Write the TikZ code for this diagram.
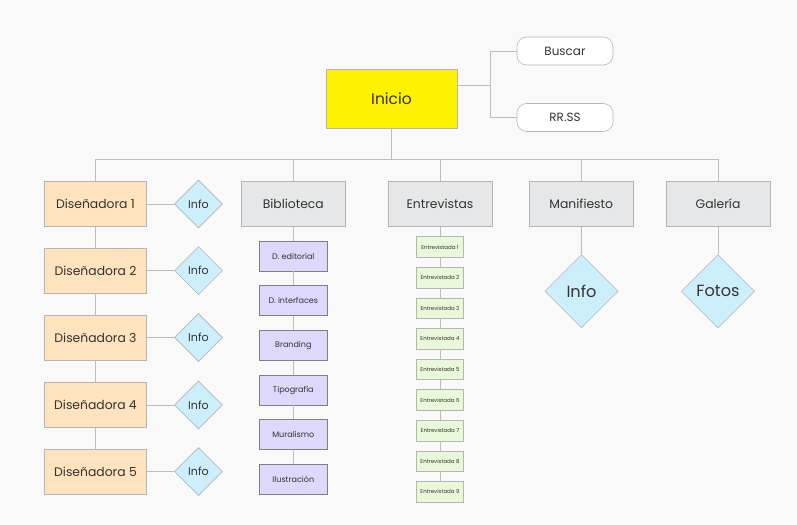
\documentclass[tikz,border=0pt]{standalone}
\usepackage{fontspec}
\setmainfont{Poppins}
\usetikzlibrary{shapes.geometric}

\definecolor{fondo}{HTML}{FAF9FA}
\definecolor{amarillo}{HTML}{FFF200}
\definecolor{durazno}{HTML}{FFE2BE}
\definecolor{celeste}{HTML}{CDEFFC}
\definecolor{gris}{HTML}{E6E7E8}
\definecolor{lila}{HTML}{DDD8FC}
\definecolor{verde}{HTML}{E9F8D9}
\definecolor{borde}{HTML}{B5B5B5}
\definecolor{linea}{HTML}{BDBDBD}
\definecolor{texto}{HTML}{333333}

\begin{document}
\begin{tikzpicture}[x=0.025cm,y=-0.025cm,text=texto]

\fill[fondo] (0,0) rectangle (797,525);
\useasboundingbox (0,0) rectangle (797,525);

% inicio y accesos
\node (inicio) [draw=borde,fill=amarillo,minimum width=3.275cm,minimum height=1.475cm,
	font=\fontsize{11}{13}\selectfont] at (391.5,98.5) {Inicio};
\begin{scope}[every node/.style={draw=borde,fill=white,rounded corners=7pt,
	minimum width=2.4cm,minimum height=0.7cm,font=\fontsize{8.5}{10}\selectfont}]
	\node (buscar) at (565,51) {Buscar};
	\node (rrss) at (565,117.5) {RR.SS};
\end{scope}
\coordinate (rama) at (490.7,85);
\coordinate (bus) at (0,159);

% secciones
\begin{scope}[every node/.style={draw=borde,fill=gris,minimum width=2.59cm,
	minimum height=1.125cm,font=\fontsize{8.8}{10}\selectfont}]
	\node (bib) at (293.3,204) {Biblioteca};
	\node (ent) at (440,204) {Entrevistas};
	\node (man) at (581.3,204) {Manifiesto};
	\node (gal) at (718,204) {Galería};
\end{scope}

\begin{scope}[every node/.style={draw=borde,fill=durazno,minimum width=2.55cm,
	minimum height=1.125cm,font=\fontsize{8.8}{10}\selectfont}]
	\node (d1) at (95.5,204) {Diseñadora 1};
	\node (d2) at (95.5,270.7) {Diseñadora 2};
	\node (d3) at (95.5,337.5) {Diseñadora 3};
	\node (d4) at (95.5,405) {Diseñadora 4};
	\node (d5) at (95.5,471.5) {Diseñadora 5};
\end{scope}

\begin{scope}[every node/.style={diamond,draw=borde,fill=celeste,inner sep=0pt,
	minimum size=1.2cm,font=\fontsize{7.9}{9}\selectfont}]
	\node (i1) at (198.5,204) {Info};
	\node (i2) at (198.5,270.7) {Info};
	\node (i3) at (198.5,337.5) {Info};
	\node (i4) at (198.5,405) {Info};
	\node (i5) at (198.5,471.5) {Info};
\end{scope}

\begin{scope}[every node/.style={diamond,draw=borde,fill=celeste,inner sep=0pt,
	minimum size=1.83cm,font=\fontsize{11.5}{13}\selectfont}]
	\node (info) at (581.5,291.3) {Info};
	\node (fotos) at (718,291.3) {Fotos};
\end{scope}

% biblioteca
\begin{scope}[every node/.style={draw=gray,fill=lila,minimum width=1.7cm,
	minimum height=0.75cm,inner sep=1pt,font=\fontsize{5.7}{7}\selectfont}]
	\node (b1) at (293.3,256) {D. editorial};
	\node (b2) at (293.3,300.7) {D. interfaces};
	\node (b3) at (293.3,345.3) {Branding};
	\node (b4) at (293.3,390) {Tipografía};
	\node (b5) at (293.3,434.7) {Muralismo};
	\node (b6) at (293.3,479.3) {Ilustración};
\end{scope}

% entrevistas
\begin{scope}[every node/.style={draw=borde,fill=verde,minimum width=1.175cm,
	minimum height=0.515cm,inner sep=0.5pt,font=\fontsize{3.9}{5}\selectfont}]
	\node (e1) at (440,247) {Entrevistada 1};
	\node (e2) at (440,277.6) {Entrevistada 2};
	\node (e3) at (440,308.2) {Entrevistada 3};
	\node (e4) at (440,338.8) {Entrevistada 4};
	\node (e5) at (440,369.4) {Entrevistada 5};
	\node (e6) at (440,400) {Entrevistada 6};
	\node (e7) at (440,430.6) {Entrevistada 7};
	\node (e8) at (440,461.2) {Entrevistada 8};
	\node (e9) at (440,491.8) {Entrevistada 9};
\end{scope}

% conexiones
\begin{scope}[line width=0.7pt,every path/.style={draw=linea}]
	\draw (inicio.east |- rama) -- (rama);
	\draw (buscar.west) -| (rama) |- (rrss.west);
	\draw (inicio.south) -- (inicio.south |- bus);
	\draw (d1.north) |- (gal.north |- bus) -- (gal.north);
	\draw (bib.north) -- (bib.north |- bus);
	\draw (ent.north) -- (ent.north |- bus);
	\draw (man.north) -- (man.north |- bus);

	\draw (d1) -- (d2) -- (d3) -- (d4) -- (d5);
	\draw (d1) -- (i1);
	\draw (d2) -- (i2);
	\draw (d3) -- (i3);
	\draw (d4) -- (i4);
	\draw (d5) -- (i5);

	\draw (bib) -- (b1) -- (b2) -- (b3) -- (b4) -- (b5) -- (b6);
	\draw (ent) -- (e1) -- (e2) -- (e3) -- (e4) -- (e5) -- (e6) -- (e7) -- (e8) -- (e9);
	\draw (man) -- (info);
	\draw (gal) -- (fotos);
\end{scope}
\end{tikzpicture}
\end{document}
